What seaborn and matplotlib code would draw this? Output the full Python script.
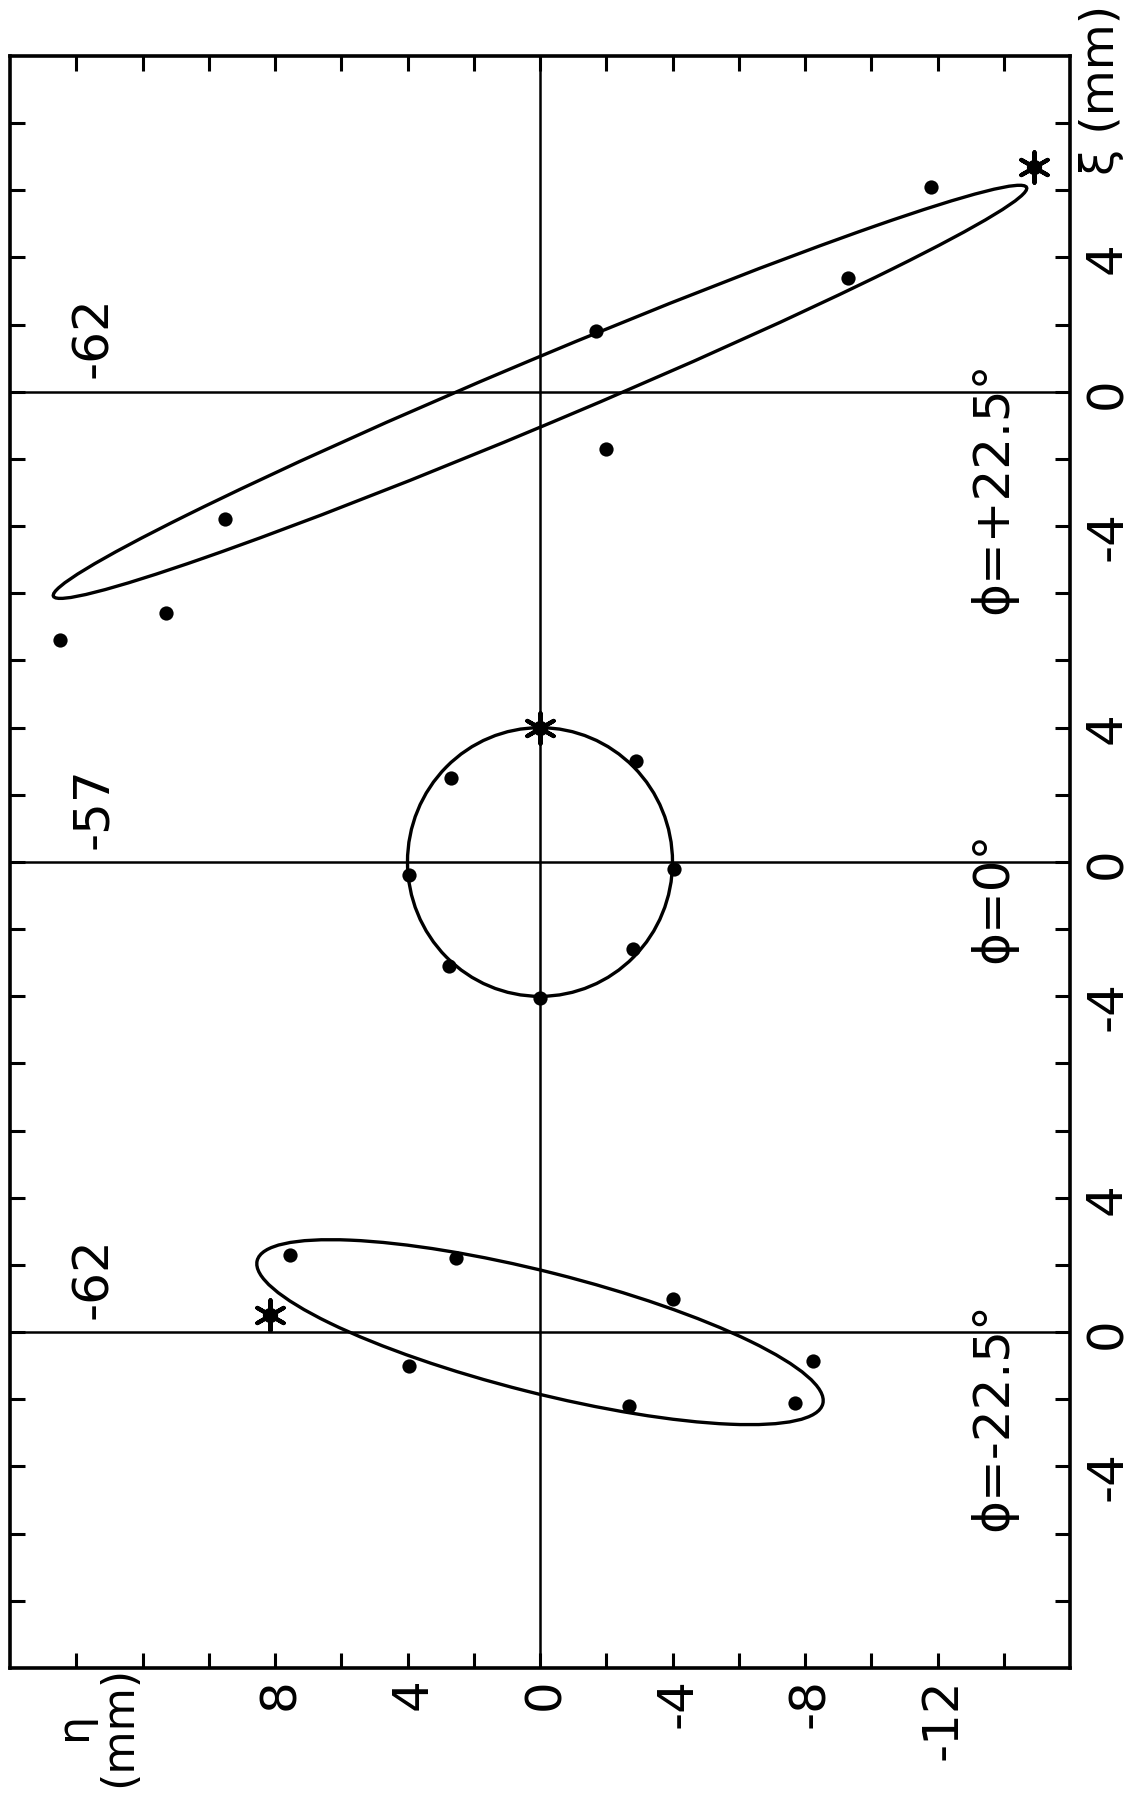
import matplotlib.pyplot as plt
import matplotlib.transforms as mtransforms
from matplotlib.patches import Ellipse
import pandas as pd
import seaborn as sns

# the three panels (page is turned on its side, eta runs left->right, xi runs up)
phi_text = ['ϕ=+22.5°', 'ϕ=0°', 'ϕ=-22.5°']
run_text = ['-62', '-57', '-62']
panel_shift = [28, 14, 0]  # where each panel's xi=0 sits on the shared axis

# measured points (eta, xi) in mm
top_eta = [-11.8, -9.3, -1.7, -2.0, 9.5, 11.3, 14.5]
top_xi = [6.1, 3.4, 1.8, -1.7, -3.8, -6.6, -7.4]
mid_eta = [-2.9, -4.05, -2.8, 0.0, 2.75, 3.95, 2.7]
mid_xi = [3.0, -0.2, -2.6, -4.05, -3.1, -0.4, 2.5]
bot_eta = [7.55, 2.55, 3.95, -4.0, -2.7, -7.7, -8.25]
bot_xi = [2.3, 2.2, -1.0, 1.0, -2.2, -2.1, -0.85]

# starred point, one per panel
star_eta = [-14.9, 0.0, 8.15]
star_xi = [6.7, 4.0, 0.5]

# fitted ellipses: centre, full axis lengths, tilt in degrees
ell_eta0 = [0.0, 0.0, 0.0]
ell_xi0 = [0.0, 0.0, 0.0]
ell_w = [31.8, 8.0, 17.6]
ell_h = [1.95, 8.0, 3.6]
ell_ang = [-22.5, 0.0, 14.0]

xi_tick_vals = [4, 0, -4]
eta_tick_vals = [8, 4, 0, -4, -8, -12]

dots = pd.DataFrame({
    'eta': top_eta + mid_eta + bot_eta,
    'xi': top_xi + mid_xi + bot_xi,
    'panel': [0] * len(top_eta) + [1] * len(mid_eta) + [2] * len(bot_eta),
})
dots['y'] = dots['xi'] + [panel_shift[p] for p in dots['panel']]
stars = pd.DataFrame({'eta': star_eta, 'xi': star_xi, 'panel': [0, 1, 2]})
stars['y'] = stars['xi'] + [panel_shift[p] for p in stars['panel']]

sns.set_theme(style='ticks', rc={'axes.edgecolor': 'black', 'xtick.color': 'black',
                                 'ytick.color': 'black', 'text.color': 'black'})
plt.rcParams['font.family'] = ['DejaVu Sans']

fig = plt.figure(figsize=(11.39, 17.94), dpi=100)
ax = fig.add_axes([10 / 1139, 126 / 1794, 1060 / 1139, 1612 / 1794])

# axis lines
ax.axvline(0, color='black', lw=1.8, zorder=1)
for sh in panel_shift:
    ax.axhline(sh, color='black', lw=1.8, zorder=1)

# ellipses
for i in range(3):
    ax.add_patch(Ellipse((ell_eta0[i], ell_xi0[i] + panel_shift[i]), ell_w[i], ell_h[i],
                         angle=ell_ang[i], fill=False, ec='black', lw=2.4, zorder=2))

sns.scatterplot(data=dots, x='eta', y='y', color='black', s=105, linewidth=0, ax=ax, zorder=3)
sns.scatterplot(data=stars, x='eta', y='y', color='black', marker=(6, 2, 0), s=480,
                linewidth=3.0, ax=ax, zorder=4)
sns.scatterplot(data=stars, x='eta', y='y', color='black', s=120, linewidth=0, ax=ax, zorder=4)

ax.set_xlim(16, -16)
ax.set_ylim(-10, 38)
ax.set(xlabel='', ylabel='')
ax.set_xticks(range(-14, 15, 2))
ax.set_yticks(range(-8, 37, 2))
ax.tick_params(direction='in', length=11, width=2.2, top=True, right=True,
               labelbottom=False, labelleft=False)
for s in ax.spines.values():
    s.set_linewidth(2.6)
    s.set_color('black')

fs = 36
# panel texts
for i in range(3):
    ax.text(13.07, panel_shift[i] + 0.4, run_text[i], rotation=90, rotation_mode='anchor',
            ha='left', va='baseline', fontsize=fs)
    ax.text(-14.1, panel_shift[i] + 0.9, phi_text[i], rotation=90, rotation_mode='anchor',
            ha='right', va='baseline', fontsize=fs)

# xi labels on the right, digit centred on the tick
right_tr = mtransforms.blended_transform_factory(ax.transAxes, ax.transData)
up_half = mtransforms.ScaledTranslation(0, 0.3 * fs / 72, fig.dpi_scale_trans)
for sh in panel_shift:
    for v in xi_tick_vals:
        ax.text(1.0123, sh + v, str(v), transform=right_tr + up_half, rotation=90,
                rotation_mode='anchor', ha='right', va='top', fontsize=fs, clip_on=False)

# eta labels below
bot_tr = mtransforms.blended_transform_factory(ax.transData, ax.transAxes)
for v in eta_tick_vals:
    ax.text(v, -0.0062, str(v), transform=bot_tr, rotation=90, rotation_mode='anchor',
            ha='right', va='center_baseline', fontsize=fs, clip_on=False)

fig.text(96 / 1139, 1 - 1726 / 1794, 'η\n(mm)', rotation=90, ha='center', va='center',
         multialignment='center', fontsize=32, linespacing=1.05)
fig.text(1102 / 1139, 1 - 90 / 1794, 'ξ (mm)', rotation=90, ha='center', va='center', fontsize=34)

fig.savefig('out.png', dpi=100)
